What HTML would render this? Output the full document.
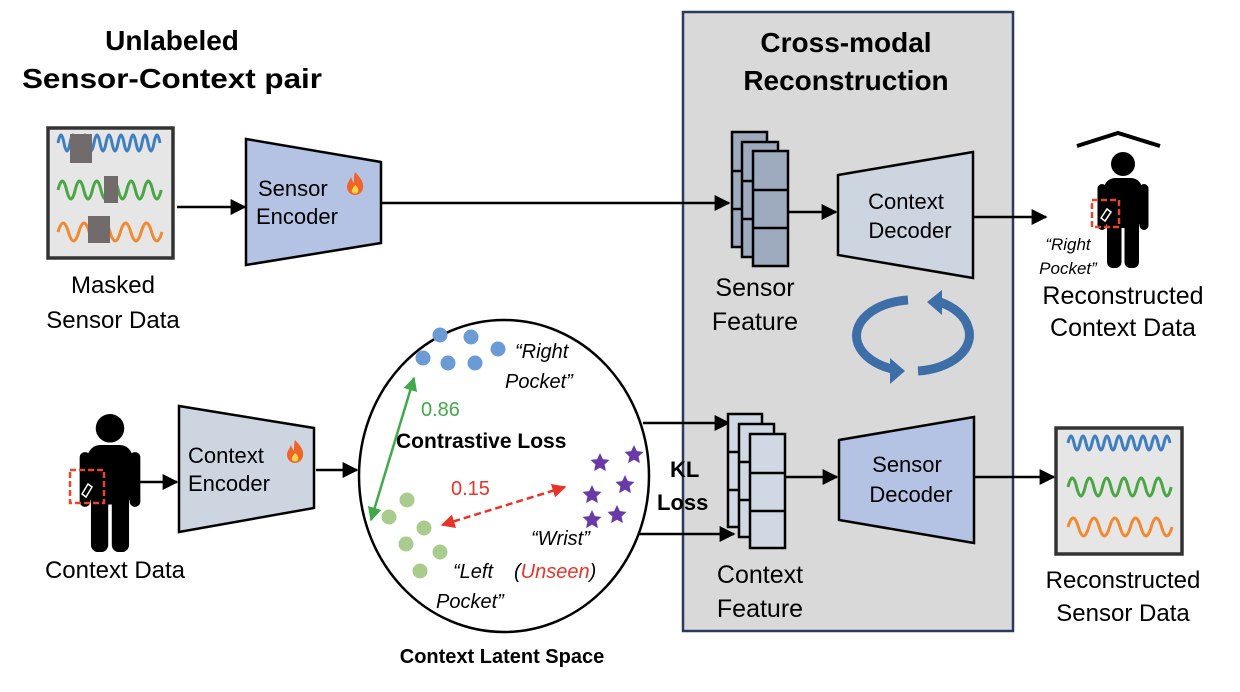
<!DOCTYPE html>
<html><head><meta charset="utf-8"><style>html,body{margin:0;padding:0;background:#fff}svg{display:block}text{font-family:"Liberation Sans",Arial,sans-serif}</style></head><body>
<svg width="1240" height="692" viewBox="0 0 1240 692" xmlns="http://www.w3.org/2000/svg">
<defs>
<marker id="ah" markerWidth="10" markerHeight="10" refX="9" refY="5" orient="auto" markerUnits="userSpaceOnUse"><path d="M0,0 L10,5 L0,10 z" fill="#000"/></marker>
<marker id="ahw" viewBox="0 0 10 10" markerWidth="16" markerHeight="16" refX="9" refY="5" orient="auto" markerUnits="userSpaceOnUse"><path d="M0,0 L10,5 L0,10 z" fill="#000"/></marker>
<marker id="ag" viewBox="0 0 10 10" markerWidth="14" markerHeight="14" refX="9" refY="5" orient="auto-start-reverse" markerUnits="userSpaceOnUse"><path d="M0,0 L10,5 L0,10 z" fill="#43a84a"/></marker>
<marker id="ar" viewBox="0 0 10 10" markerWidth="14" markerHeight="14" refX="9" refY="5" orient="auto-start-reverse" markerUnits="userSpaceOnUse"><path d="M0,0 L10,5 L0,10 z" fill="#e8332a"/></marker>
<g id="person">
<circle cx="0" cy="12" r="12"/>
<rect x="-19" y="26" width="38" height="50" rx="11"/>
<rect x="-25.5" y="32" width="9" height="46" rx="4.5"/>
<rect x="16.5" y="32" width="9" height="46" rx="4.5"/>
<rect x="-16" y="58" width="14.5" height="58" rx="6"/>
<rect x="1.5" y="58" width="14.5" height="58" rx="6"/>
</g>
<g id="flame"><path d="M0,-11 C6,-5 9,0 8,5 C7,10 3,12 0,12 C-4,12 -8,9 -8,4 C-8,0 -5,-3 -4,-6 C-3,-3 -2,-1 -1,0 C-1,-5 -1,-8 0,-11 z" fill="#f0642a"/><path d="M0,2 C3,4 4,7 3,9 C2,11 -2,11 -3,9 C-4,7 -2,5 0,2 z" fill="#ffd54a"/></g>
<path id="star" d="M0,-10 L2.9,-3.9 L9.5,-3.1 L4.6,1.5 L5.9,8.1 L0,4.8 L-5.9,8.1 L-4.6,1.5 L-9.5,-3.1 L-2.9,-3.9 z" fill="#6a3aa8"/>
</defs>

<!-- Cross-modal panel -->
<rect x="683" y="12" width="330" height="619" fill="#d9d9d9" stroke="#2b3a5c" stroke-width="2.5"/>
<text x="846" y="52" font-size="28" font-weight="bold" text-anchor="middle">Cross-modal</text>
<text x="846" y="90" font-size="28" font-weight="bold" text-anchor="middle">Reconstruction</text>

<!-- Left titles -->
<text x="172" y="50" font-size="28" font-weight="bold" text-anchor="middle">Unlabeled</text>
<text x="172" y="88" font-size="28" font-weight="bold" text-anchor="middle" textLength="300" lengthAdjust="spacingAndGlyphs">Sensor-Context pair</text>

<!-- Masked sensor box -->
<rect x="48" y="128" width="125" height="130" fill="#e6e6e6" stroke="#333" stroke-width="3.5"/>
<path d="M58 143 q3 -16 6 0 t6 0 t6 0 t6 0 t6 0 t6 0 t6 0 t6 0 t6 0 t6 0 t6 0 t6 0 t6 0 t6 0 t6 0 t6 0 t6 0" fill="none" stroke="#3f7fc0" stroke-width="3"/>
<path d="M58 190 q4.3 -18 8.6 0 t8.6 0 t8.6 0 t8.6 0 t8.6 0 t8.6 0 t8.6 0 t8.6 0 t8.6 0 t8.6 0 t8.6 0 t8.6 0" fill="none" stroke="#4aa544" stroke-width="3"/>
<path d="M58 232 q5.2 -18 10.4 0 t10.4 0 t10.4 0 t10.4 0 t10.4 0 t10.4 0 t10.4 0 t10.4 0 t10.4 0 t10.4 0" fill="none" stroke="#f08a30" stroke-width="3"/>
<rect x="70" y="134" width="22" height="29" fill="#716b6b"/>
<rect x="104" y="176" width="14" height="27" fill="#716b6b"/>
<rect x="88" y="216" width="22" height="27" fill="#716b6b"/>
<text x="113" y="293" font-size="24" text-anchor="middle">Masked</text>
<text x="113" y="328" font-size="24" text-anchor="middle">Sensor Data</text>

<!-- Sensor encoder -->
<line x1="177" y1="207" x2="245" y2="207" stroke="#000" stroke-width="2.5" marker-end="url(#ahw)"/>
<polygon points="246,139 381,162 381,243 246,265" fill="#b4c3e3" stroke="#000" stroke-width="2.5"/>
<text x="258" y="196" font-size="22">Sensor</text>
<use href="#flame" x="355" y="183"/>
<text x="256" y="224" font-size="22">Encoder</text>
<line x1="381" y1="203" x2="729" y2="203" stroke="#000" stroke-width="2.5" marker-end="url(#ahw)"/>

<!-- Sensor feature stack -->
<g fill="#9eabbf" stroke="#000" stroke-width="2.5">
<rect x="732" y="132" width="35" height="115"/>
<rect x="742" y="142" width="36" height="115"/>
<rect x="753" y="151" width="35" height="115"/>
</g>
<g stroke="#000" stroke-width="2.5">
<line x1="732" y1="171" x2="742" y2="171"/><line x1="732" y1="209" x2="742" y2="209"/>
<line x1="742" y1="181" x2="753" y2="181"/><line x1="742" y1="219" x2="753" y2="219"/>
<line x1="753" y1="190" x2="788" y2="190"/><line x1="753" y1="228" x2="788" y2="228"/>
</g>
<text x="755" y="296" font-size="25" text-anchor="middle">Sensor</text>
<text x="755" y="330" font-size="25" text-anchor="middle">Feature</text>

<!-- Context decoder -->
<line x1="788" y1="212" x2="836" y2="212" stroke="#000" stroke-width="2.5" marker-end="url(#ahw)"/>
<polygon points="838,175 973,152 973,278 838,255" fill="#cdd5e0" stroke="#000" stroke-width="2.5"/>
<text x="906" y="209" font-size="22" text-anchor="middle">Context</text>
<text x="910" y="238" font-size="22" text-anchor="middle">Decoder</text>
<line x1="973" y1="217" x2="1046" y2="217" stroke="#000" stroke-width="2.5" marker-end="url(#ahw)"/>

<!-- Right person -->
<path d="M1077 146 L1118 133 L1160 146" fill="none" stroke="#000" stroke-width="4"/>
<use href="#person" x="1123" y="152"/>
<rect x="1092" y="200" width="27" height="27" fill="none" stroke="#e8452a" stroke-width="2.5" stroke-dasharray="6,3"/>
<path d="M1101 218 l6 -9 l4 3 l-6 9 z" fill="none" stroke="#fff" stroke-width="1.5"/>
<text x="1068" y="250" font-size="17" font-style="italic" text-anchor="middle">“Right</text>
<text x="1068" y="274" font-size="17" font-style="italic" text-anchor="middle">Pocket”</text>
<text x="1123" y="304" font-size="25" text-anchor="middle">Reconstructed</text>
<text x="1123" y="336" font-size="25" text-anchor="middle">Context Data</text>

<!-- Cycle arrows -->
<g fill="none" stroke="#3e6ea8" stroke-width="9">
<path d="M908 300 A57 36 0 0 0 858 344 A57 36 0 0 0 892 369"/>
<path d="M918 371 A57 36 0 0 0 968 327 A57 36 0 0 0 940 302"/>
</g>
<polygon points="890,358 905,371 890,384" fill="#3e6ea8"/>
<polygon points="942,290 927,302 942,315" fill="#3e6ea8"/>

<!-- Left person -->
<use href="#person" transform="translate(110,414) scale(1.19)"/>
<rect x="70" y="470" width="34" height="33" fill="none" stroke="#e8452a" stroke-width="2.5" stroke-dasharray="6,3"/>
<path d="M82 494 l6 -10 l4 3 l-6 10 z" fill="none" stroke="#fff" stroke-width="1.5"/>
<text x="115" y="578" font-size="24" text-anchor="middle">Context Data</text>
<line x1="137" y1="482" x2="177" y2="482" stroke="#000" stroke-width="2.5" marker-end="url(#ahw)"/>

<!-- Context encoder -->
<polygon points="179,406 314,428 314,508 179,532" fill="#cdd5e0" stroke="#000" stroke-width="2.5"/>
<text x="188" y="463" font-size="22">Context</text>
<use href="#flame" x="295" y="451"/>
<text x="188" y="491" font-size="22">Encoder</text>
<line x1="316" y1="470" x2="357" y2="470" stroke="#000" stroke-width="2.5" marker-end="url(#ahw)"/>

<!-- Latent ellipse -->
<ellipse cx="504" cy="476" rx="145" ry="156" fill="#fff" stroke="#000" stroke-width="2.5"/>
<g fill="#6a9bd4">
<circle cx="440" cy="335" r="7.5"/><circle cx="471" cy="337" r="7.5"/><circle cx="498" cy="349" r="7.5"/>
<circle cx="423" cy="358" r="7.5"/><circle cx="448" cy="363" r="7.5"/><circle cx="475" cy="363" r="7.5"/>
</g>
<text x="515" y="358" font-size="20" font-style="italic">“Right</text>
<text x="505" y="388" font-size="20" font-style="italic">Pocket”</text>
<line x1="414" y1="378" x2="371" y2="520" stroke="#43a84a" stroke-width="2.5" marker-start="url(#ag)" marker-end="url(#ag)"/>
<text x="421" y="416" font-size="20" fill="#43a84a">0.86</text>
<text x="396" y="448" font-size="21" font-weight="bold">Contrastive Loss</text>
<g>
<use href="#star" x="600" y="463"/><use href="#star" x="634" y="455"/><use href="#star" x="625" y="485"/>
<use href="#star" x="592" y="495"/><use href="#star" x="617" y="515"/><use href="#star" x="592" y="520"/>
</g>
<line x1="565" y1="487" x2="442" y2="525" stroke="#e8332a" stroke-width="2.5" stroke-dasharray="7,4" marker-start="url(#ar)" marker-end="url(#ar)"/>
<text x="451" y="495" font-size="20" fill="#e8332a">0.15</text>
<g fill="#a9cc8e">
<circle cx="407" cy="500" r="7.5"/><circle cx="389" cy="517" r="7.5"/><circle cx="424" cy="528" r="7.5"/>
<circle cx="406" cy="544" r="7.5"/><circle cx="440" cy="552" r="7.5"/><circle cx="420" cy="571" r="7.5"/>
</g>
<text x="531" y="545" font-size="20" font-style="italic">“Wrist”</text>
<text x="453" y="578" font-size="20" font-style="italic">“Left</text>
<text x="514" y="578" font-size="20" font-style="italic">(<tspan fill="#e8332a">Unseen</tspan>)</text>
<text x="436" y="608" font-size="20" font-style="italic">Pocket”</text>
<text x="502" y="663" font-size="20" font-weight="bold" text-anchor="middle">Context Latent Space</text>

<!-- KL arrows -->
<line x1="643" y1="423" x2="729" y2="423" stroke="#000" stroke-width="2.5" marker-end="url(#ahw)"/>
<line x1="638" y1="534" x2="734" y2="534" stroke="#000" stroke-width="2.5" marker-end="url(#ahw)"/>
<text x="670" y="477" font-size="22" font-weight="bold">KL</text>
<text x="657" y="510" font-size="22" font-weight="bold">Loss</text>

<!-- Context feature stack -->
<g fill="#d0d8e3" stroke="#000" stroke-width="2.5">
<rect x="728" y="414" width="34" height="113"/>
<rect x="739" y="424" width="35" height="113"/>
<rect x="750" y="434" width="35" height="114"/>
</g>
<g stroke="#000" stroke-width="2.5">
<line x1="728" y1="452" x2="739" y2="452"/><line x1="728" y1="490" x2="739" y2="490"/>
<line x1="739" y1="462" x2="750" y2="462"/><line x1="739" y1="500" x2="750" y2="500"/>
<line x1="750" y1="473" x2="785" y2="473"/><line x1="750" y1="511" x2="785" y2="511"/>
</g>
<text x="760" y="583" font-size="25" text-anchor="middle">Context</text>
<text x="760" y="617" font-size="25" text-anchor="middle">Feature</text>

<!-- Sensor decoder -->
<line x1="785" y1="477" x2="837" y2="477" stroke="#000" stroke-width="2.5" marker-end="url(#ahw)"/>
<polygon points="839,440 974,417 974,543 839,520" fill="#b4c3e3" stroke="#000" stroke-width="2.5"/>
<text x="907" y="472" font-size="22" text-anchor="middle">Sensor</text>
<text x="911" y="502" font-size="22" text-anchor="middle">Decoder</text>
<line x1="974" y1="477" x2="1054" y2="477" stroke="#000" stroke-width="2.5" marker-end="url(#ahw)"/>

<!-- Reconstructed sensor box -->
<rect x="1056" y="428" width="126" height="126" fill="#e6e6e6" stroke="#333" stroke-width="3.5"/>
<path d="M1068 443 q3 -14 6 0 t6 0 t6 0 t6 0 t6 0 t6 0 t6 0 t6 0 t6 0 t6 0 t6 0 t6 0 t6 0 t6 0 t6 0 t6 0 t6 0" fill="none" stroke="#3f7fc0" stroke-width="3"/>
<path d="M1068 487 q4.3 -18 8.6 0 t8.6 0 t8.6 0 t8.6 0 t8.6 0 t8.6 0 t8.6 0 t8.6 0 t8.6 0 t8.6 0 t8.6 0 t8.6 0" fill="none" stroke="#4aa544" stroke-width="3"/>
<path d="M1068 527 q5.2 -18 10.4 0 t10.4 0 t10.4 0 t10.4 0 t10.4 0 t10.4 0 t10.4 0 t10.4 0 t10.4 0 t10.4 0" fill="none" stroke="#f08a30" stroke-width="3"/>
<text x="1123" y="588" font-size="24" text-anchor="middle">Reconstructed</text>
<text x="1123" y="621" font-size="24" text-anchor="middle">Sensor Data</text>
</svg>
</body></html>
